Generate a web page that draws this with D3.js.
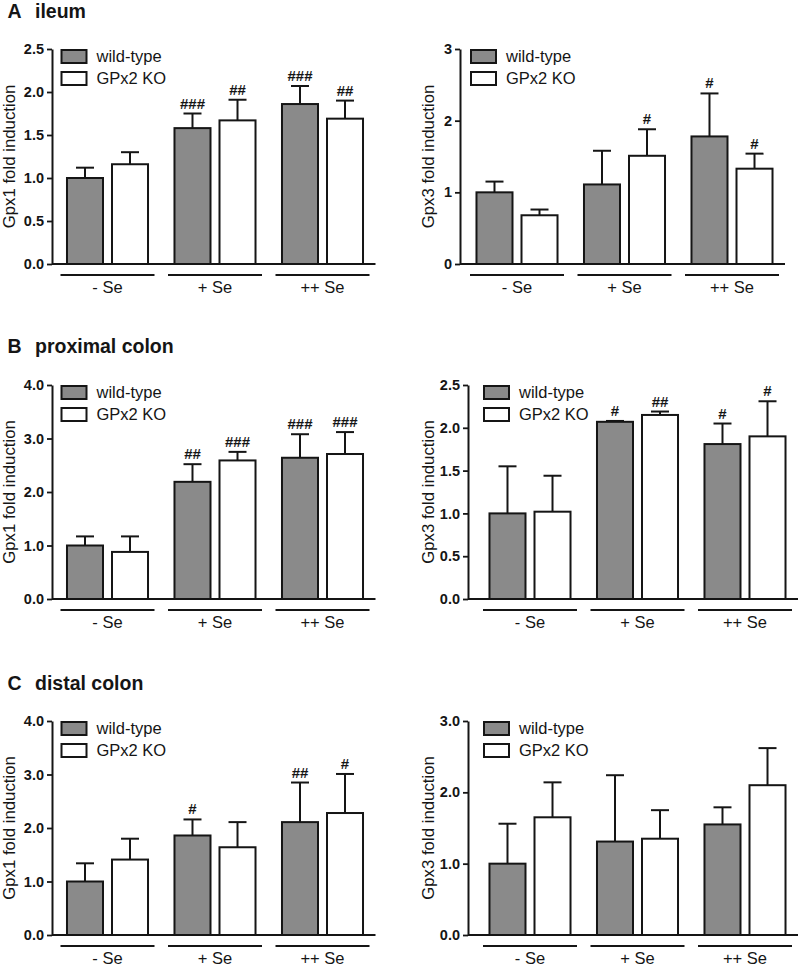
<!DOCTYPE html>
<html>
<head>
<meta charset="utf-8">
<script src="https://cdn.jsdelivr.net/npm/d3@7"></script>
<style>
  html, body { margin: 0; padding: 0; background: #fff; }
  svg { display: block; font-family: "Liberation Sans", Arial, Helvetica, sans-serif; }
</style>
</head>
<body>
<svg id="chart" width="800" height="967"></svg>
<script>
// ---------- data ----------
const groups = ["- Se", "+ Se", "++ Se"];
const genotypes = ["wild-type", "GPx2 KO"];
const sectionTitles = [["A", "ileum"], ["B", "proximal colon"], ["C", "distal colon"]];
const yLabels = ["Gpx1 fold induction", "Gpx3 fold induction"];

// A ileum – Gpx1
const ileumGpx1WT = [1.00, 1.58, 1.86];
const ileumGpx1KO = [1.16, 1.67, 1.69];
const ileumGpx1WTErr = [0.12, 0.17, 0.21];
const ileumGpx1KOErr = [0.14, 0.24, 0.21];
const ileumGpx1WTSig = ["", "###", "###"];
const ileumGpx1KOSig = ["", "##", "##"];
const ileumGpx1Ticks = [0, 0.5, 1.0, 1.5, 2.0, 2.5];

// A ileum – Gpx3
const ileumGpx3WT = [1.00, 1.11, 1.78];
const ileumGpx3KO = [0.68, 1.51, 1.33];
const ileumGpx3WTErr = [0.15, 0.47, 0.60];
const ileumGpx3KOErr = [0.08, 0.37, 0.21];
const ileumGpx3WTSig = ["", "", "#"];
const ileumGpx3KOSig = ["", "#", "#"];
const ileumGpx3Ticks = [0, 1, 2, 3];

// B proximal colon – Gpx1
const proxGpx1WT = [1.00, 2.19, 2.64];
const proxGpx1KO = [0.88, 2.59, 2.71];
const proxGpx1WTErr = [0.17, 0.33, 0.44];
const proxGpx1KOErr = [0.29, 0.16, 0.41];
const proxGpx1WTSig = ["", "##", "###"];
const proxGpx1KOSig = ["", "###", "###"];
const proxGpx1Ticks = [0, 1, 2, 3, 4];

// B proximal colon – Gpx3
const proxGpx3WT = [1.00, 2.07, 1.81];
const proxGpx3KO = [1.02, 2.15, 1.90];
const proxGpx3WTErr = [0.55, 0.01, 0.24];
const proxGpx3KOErr = [0.42, 0.04, 0.41];
const proxGpx3WTSig = ["", "#", "#"];
const proxGpx3KOSig = ["", "##", "#"];
const proxGpx3Ticks = [0, 0.5, 1.0, 1.5, 2.0, 2.5];

// C distal colon – Gpx1
const distGpx1WT = [1.00, 1.86, 2.11];
const distGpx1KO = [1.41, 1.64, 2.28];
const distGpx1WTErr = [0.34, 0.30, 0.74];
const distGpx1KOErr = [0.39, 0.47, 0.73];
const distGpx1WTSig = ["", "#", "##"];
const distGpx1KOSig = ["", "", "#"];
const distGpx1Ticks = [0, 1, 2, 3, 4];

// C distal colon – Gpx3
const distGpx3WT = [1.00, 1.31, 1.55];
const distGpx3KO = [1.65, 1.35, 2.10];
const distGpx3WTErr = [0.56, 0.93, 0.24];
const distGpx3KOErr = [0.49, 0.40, 0.52];
const distGpx3WTSig = ["", "", ""];
const distGpx3KOSig = ["", "", ""];
const distGpx3Ticks = [0, 1, 2, 3];

// ---------- panel assembly ----------
const panels = [
  { row: 0, col: 0, ylab: yLabels[0], ticks: ileumGpx1Ticks, fmt: ".1f",
    wt: ileumGpx1WT, ko: ileumGpx1KO, wtErr: ileumGpx1WTErr, koErr: ileumGpx1KOErr, wtSig: ileumGpx1WTSig, koSig: ileumGpx1KOSig },
  { row: 0, col: 1, ylab: yLabels[1], ticks: ileumGpx3Ticks, fmt: "d",
    wt: ileumGpx3WT, ko: ileumGpx3KO, wtErr: ileumGpx3WTErr, koErr: ileumGpx3KOErr, wtSig: ileumGpx3WTSig, koSig: ileumGpx3KOSig },
  { row: 1, col: 0, ylab: yLabels[0], ticks: proxGpx1Ticks, fmt: ".1f",
    wt: proxGpx1WT, ko: proxGpx1KO, wtErr: proxGpx1WTErr, koErr: proxGpx1KOErr, wtSig: proxGpx1WTSig, koSig: proxGpx1KOSig },
  { row: 1, col: 1, ylab: yLabels[1], ticks: proxGpx3Ticks, fmt: ".1f",
    wt: proxGpx3WT, ko: proxGpx3KO, wtErr: proxGpx3WTErr, koErr: proxGpx3KOErr, wtSig: proxGpx3WTSig, koSig: proxGpx3KOSig },
  { row: 2, col: 0, ylab: yLabels[0], ticks: distGpx1Ticks, fmt: ".1f",
    wt: distGpx1WT, ko: distGpx1KO, wtErr: distGpx1WTErr, koErr: distGpx1KOErr, wtSig: distGpx1WTSig, koSig: distGpx1KOSig },
  { row: 2, col: 1, ylab: yLabels[1], ticks: distGpx3Ticks, fmt: ".1f",
    wt: distGpx3WT, ko: distGpx3KO, wtErr: distGpx3WTErr, koErr: distGpx3KOErr, wtSig: distGpx3WTSig, koSig: distGpx3KOSig }
];

// ---------- layout ----------
const rowTop = [49, 385, 721];
const rowBottom = [264, 599, 935];
const titleY = [18, 353, 690];
const axisXs = [[52, 460], [52, 468], [52, 468]];
const bandStarts = [[60.5, 470], [60.5, 483], [60.5, 483]];
const yLabelX = [9.5, 428];
const bandSpan = 309;
const INK = "#151515";
const GRAY = "#8a8a8a";

const svg = d3.select("#chart");

// Section titles
sectionTitles.forEach((t, i) => {
  svg.append("text").attr("x", 7.5).attr("y", titleY[i])
    .attr("font-size", 19.5).attr("font-weight", "bold").attr("fill", INK).text(t[0]);
  svg.append("text").attr("x", 35).attr("y", titleY[i])
    .attr("font-size", 19.5).attr("font-weight", "bold").attr("fill", INK).text(t[1]);
});

panels.forEach(p => {
  const ax = axisXs[p.row][p.col];
  const b0 = bandStarts[p.row][p.col];
  const top = rowTop[p.row], bottom = rowBottom[p.row];
  const g = svg.append("g");

  const y = d3.scaleLinear().domain([0, d3.max(p.ticks)]).range([bottom, top]);
  const x0 = d3.scaleBand().domain(groups).range([b0, b0 + bandSpan]).paddingInner(0.1256).paddingOuter(0);
  const bw = x0.bandwidth();
  const x1 = d3.scaleBand().domain(genotypes).range([bw * 0.069, bw * 0.931]).paddingInner(0.2).paddingOuter(0);

  // y axis
  const yAxis = d3.axisLeft(y).tickValues(p.ticks).tickFormat(d3.format(p.fmt)).tickSize(5).tickSizeOuter(0).tickPadding(3);
  const ya = g.append("g").attr("transform", `translate(${ax},0)`).call(yAxis);
  ya.select(".domain").attr("stroke", INK).attr("stroke-width", 2);
  ya.selectAll(".tick line").attr("stroke", INK).attr("stroke-width", 1.8);
  ya.selectAll(".tick text").attr("font-size", 14.5).attr("font-weight", "bold").attr("fill", INK)
    .attr("font-family", "'Liberation Sans', Arial, sans-serif");

  // y label
  g.append("text")
    .attr("transform", `translate(${yLabelX[p.col]},${(top + bottom) / 2}) rotate(-90)`)
    .attr("text-anchor", "middle").attr("dy", "0.35em")
    .attr("font-size", 16.8).attr("fill", INK).text(p.ylab);

  // bars data
  const rows = [];
  groups.forEach((grp, i) => {
    rows.push({ grp, geno: genotypes[0], v: p.wt[i], e: p.wtErr[i], s: p.wtSig[i] });
    rows.push({ grp, geno: genotypes[1], v: p.ko[i], e: p.koErr[i], s: p.koSig[i] });
  });
  const bx = d => x0(d.grp) + x1(d.geno);
  const w = x1.bandwidth();

  // error bars (behind bars)
  g.selectAll(".err").data(rows).join("line")
    .attr("x1", d => bx(d) + w / 2).attr("x2", d => bx(d) + w / 2)
    .attr("y1", d => y(d.v)).attr("y2", d => y(d.v + d.e))
    .attr("stroke", INK).attr("stroke-width", 2);
  g.selectAll(".cap").data(rows).join("line")
    .attr("x1", d => bx(d) + w / 2 - w * 0.25).attr("x2", d => bx(d) + w / 2 + w * 0.25)
    .attr("y1", d => y(d.v + d.e)).attr("y2", d => y(d.v + d.e))
    .attr("stroke", INK).attr("stroke-width", 2);

  g.selectAll(".bar").data(rows).join("rect")
    .attr("x", d => bx(d)).attr("width", w)
    .attr("y", d => y(d.v)).attr("height", d => y(0) - y(d.v))
    .attr("fill", d => d.geno === genotypes[0] ? GRAY : "#ffffff")
    .attr("stroke", INK).attr("stroke-width", 2);

  // significance marks
  g.selectAll(".sig").data(rows.filter(d => d.s)).join("text")
    .attr("x", d => bx(d) + w / 2).attr("y", d => y(d.v + d.e) - 5)
    .attr("text-anchor", "middle").attr("font-size", 15).attr("font-weight", "bold")
    .attr("fill", INK).text(d => d.s);

  // x axis line
  g.append("line").attr("x1", ax).attr("x2", b0 + bandSpan + 6)
    .attr("y1", bottom).attr("y2", bottom).attr("stroke", INK).attr("stroke-width", 2);

  // group underlines + labels
  g.selectAll(".uline").data(groups).join("line")
    .attr("x1", d => x0(d)).attr("x2", d => x0(d) + bw)
    .attr("y1", bottom + 11).attr("y2", bottom + 11)
    .attr("stroke", INK).attr("stroke-width", 2);
  g.selectAll(".glab").data(groups).join("text")
    .attr("x", d => x0(d) + bw / 2).attr("y", bottom + 29)
    .attr("text-anchor", "middle").attr("font-size", 16.5).attr("fill", INK)
    .style("white-space", "pre").text(d => d);

  // legend
  genotypes.forEach((gname, i) => {
    const ly = top + 1 + i * 22;
    g.append("rect").attr("x", b0 + 1).attr("y", ly).attr("width", 25).attr("height", 13)
      .attr("fill", i === 0 ? GRAY : "#fff").attr("stroke", INK).attr("stroke-width", 2);
    g.append("text").attr("x", b0 + 36).attr("y", ly + 6.5).attr("dy", "0.35em")
      .attr("font-size", 16.5).attr("fill", INK).text(gname);
  });
});
</script>
</body>
</html>
